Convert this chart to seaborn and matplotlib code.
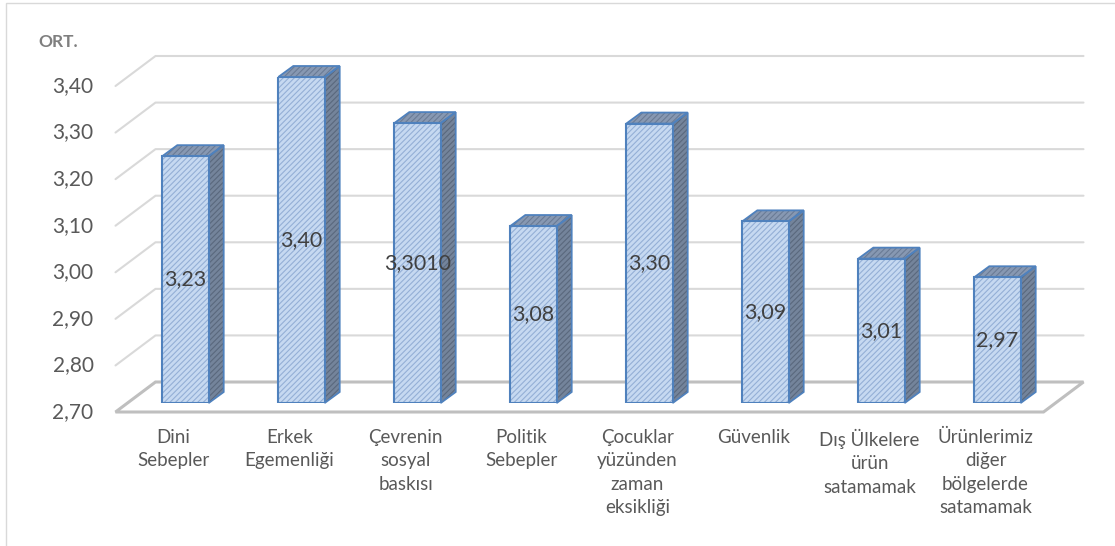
import pandas as pd
import seaborn as sns
import matplotlib.pyplot as plt
from matplotlib.patches import Polygon, Rectangle
from matplotlib.lines import Line2D
from matplotlib.transforms import IdentityTransform, offset_copy

plt.switch_backend('Agg')

# data
categories = ['Dini\nSebepler', 'Erkek\nEgemenliği', 'Çevrenin\nsosyal\nbaskısı',
              'Politik\nSebepler', 'Çocuklar\nyüzünden\nzaman\neksikliği', 'Güvenlik',
              'Dış Ülkelere\nürün\nsatamamak', 'Ürünlerimiz\ndiğer\nbölgelerde\nsatamamak']
values = [3.23, 3.40, 3.301, 3.08, 3.30, 3.09, 3.01, 2.97]
value_labels = ['3,23', '3,40', '3,3010', '3,08', '3,30', '3,09', '3,01', '2,97']
y_ticks = [2.70, 2.80, 2.90, 3.00, 3.10, 3.20, 3.30, 3.40]
y_tick_labels = ['2,70', '2,80', '2,90', '3,00', '3,10', '3,20', '3,30', '3,40']

sns.set_theme(style='white')
plt.rcParams['font.family'] = ['Lato', 'DejaVu Sans']
plt.rcParams['hatch.linewidth'] = 0.8

W, H = 1115, 546
fig = plt.figure(figsize=(W / 100, H / 100), dpi=100)
fig.patch.set_facecolor('white')
ax = fig.add_axes([127.5 / W, (H - 403) / H, 928 / W, 326 / H])
ax.patch.set_visible(False)

df = pd.DataFrame({'kategori': categories, 'ort': values})
sns.barplot(data=df, x='kategori', y='ort', ax=ax, width=0.4, color='#c6d9f1',
            saturation=1, edgecolor='#94afd6', linewidth=0, hatch='//////', zorder=3)
ax.set_xlim(-0.5, 7.5)
ax.set_ylim(y_ticks[0], y_ticks[-1])
sns.despine(ax=ax, left=True, bottom=True)
ax.set_yticks([])
ax.set_xticklabels([])
ax.tick_params(axis='x', length=0)
ax.set_xlabel('')
ax.set_ylabel('')

# pseudo 3d offsets in pixels
FRONT = (-12, -9)
BACK = (28, 21)
DEPTH = (15, 11)


def px(x, y, off=(0, 0)):
    p = ax.transData.transform((x, y))
    return (p[0] + off[0], p[1] + off[1])


x0, x1 = ax.get_xlim()
base = y_ticks[0]

# back wall gridlines + left diagonals
for t in y_ticks[1:]:
    fl = px(x0, t, FRONT)
    bl = px(x0, t, BACK)
    br = px(x1, t, BACK)
    fig.add_artist(Line2D([fl[0], bl[0], br[0]], [fl[1], bl[1], br[1]],
                          transform=IdentityTransform(), color='#d9d9d9', lw=1.5, zorder=-3))

# floor
floor = [px(x0, base, FRONT), px(x1, base, FRONT), px(x1, base, BACK), px(x0, base, BACK)]
fig.add_artist(Polygon(floor, closed=True, transform=IdentityTransform(), facecolor='white',
                       edgecolor='#bfbfbf', lw=2.2, zorder=-2))

# bar side and top faces
for bar in ax.patches:
    bx, bw, v = bar.get_x(), bar.get_width(), bar.get_height()
    a = px(bx + bw, base)
    b = px(bx + bw, v)
    c = px(bx, v)
    side = [a, b, (b[0] + DEPTH[0], b[1] + DEPTH[1]), (a[0] + DEPTH[0], a[1] + DEPTH[1])]
    top = [c, b, (b[0] + DEPTH[0], b[1] + DEPTH[1]), (c[0] + DEPTH[0], c[1] + DEPTH[1])]
    for poly, fc, hc in [(side, '#74849b', '#5a687d'), (top, '#8798b2', '#6a7b95')]:
        fig.add_artist(Polygon(poly, closed=True, transform=IdentityTransform(), facecolor=fc,
                               edgecolor=hc, lw=0, hatch='//////', zorder=-1))
        fig.add_artist(Polygon(poly, closed=True, transform=IdentityTransform(), fill=False,
                               edgecolor='#4f81bd', lw=1.3, zorder=-0.9))
    ax.add_patch(Rectangle((bx, base), bw, v - base, fill=False, edgecolor='#4f81bd',
                           lw=1.5, zorder=4))

# value labels in the middle of each bar
for pos, v, lab in zip(ax.get_xticks(), values, value_labels):
    ax.text(pos, (v + base) / 2, lab, ha='center', va='center', fontsize=15.5,
            color='#404040', zorder=5)

# y tick labels on the front plane
tick_tr = offset_copy(ax.transData, fig=fig, x=FRONT[0] - 22, y=FRONT[1], units='dots')
for t, lab in zip(y_ticks, y_tick_labels):
    ax.text(x0, t, lab, transform=tick_tr, ha='right', va='center', fontsize=15,
            color='#595959', clip_on=False)

# category labels below the floor
cat_tr = offset_copy(ax.transData, fig=fig, x=FRONT[0], y=FRONT[1] - 17, units='dots')
for pos, cat in zip(ax.get_xticks(), categories):
    ax.text(pos, base, cat, transform=cat_tr, ha='center', va='top', fontsize=13.5,
            color='#595959', linespacing=1.45, multialignment='center', clip_on=False)

# axis title
fig.text(38 / W, 1 - 42 / H, 'ORT.', fontsize=12.5, fontweight='bold', color='#7f7f7f',
         va='center', ha='left')

# chart area border
fig.add_artist(Rectangle((6 / W, -0.02), 1.2, 1.02 - 3 / H, transform=fig.transFigure,
                         fill=False, edgecolor='#d9d9d9', lw=1))

fig.savefig('out.png', dpi=100)
plt.close(fig)
